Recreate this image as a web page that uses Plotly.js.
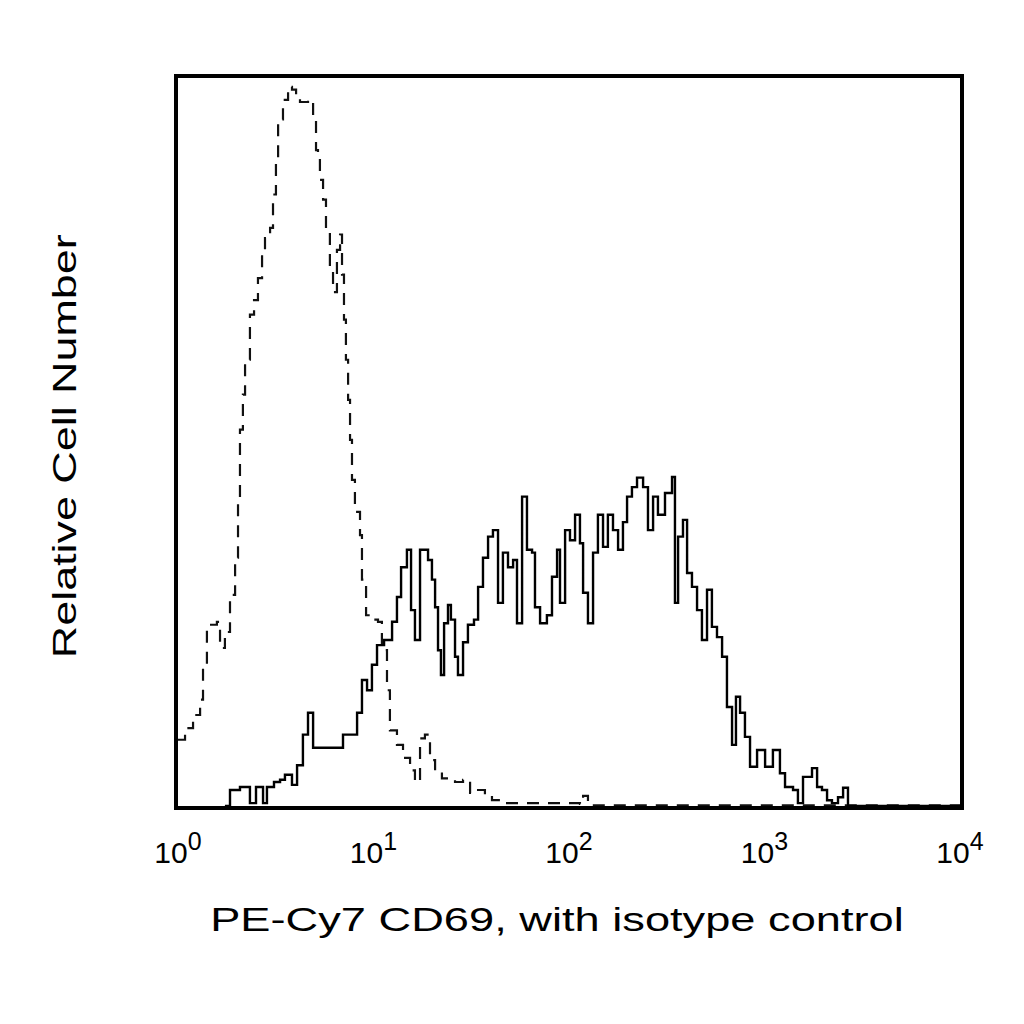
<!DOCTYPE html>
<html>
<head>
<meta charset="UTF-8">
<script src="https://cdn.plot.ly/plotly-3.0.1.min.js"></script>
<style>
  body { margin: 0; background: #fff; }
  /* the reference titles are drawn wider than plain Arial */
  #plot .xtitle { transform-box: fill-box; transform-origin: center; transform: translateX(-12px) scaleX(1.33); }
  #plot .ytitle { transform-box: fill-box; transform-origin: center; transform: translate(-10px, 16px) rotate(-90deg) scaleX(1.36); }
</style>
</head>
<body>
<div id="plot" style="width:1024px;height:1024px;"></div>
<script>
// fluorescence intensity given in decades (log10), counts as relative cell number
const cd69Log = [0.240, 0.266, 0.317, 0.368, 0.399, 0.435, 0.455, 0.491, 0.522, 0.547, 0.583, 0.609,
  0.639, 0.665, 0.691, 0.844, 0.916, 0.941, 0.967, 0.992, 1.018, 1.054, 1.095, 1.120, 1.141, 1.171,
  1.192, 1.212, 1.238, 1.279, 1.299, 1.315, 1.330, 1.345, 1.361, 1.381, 1.396, 1.417, 1.432, 1.458,
  1.483, 1.514, 1.535, 1.560, 1.586, 1.611, 1.637, 1.662, 1.688, 1.714, 1.734, 1.760, 1.785, 1.811,
  1.826, 1.852, 1.887, 1.913, 1.939, 1.954, 1.980, 2.005, 2.031, 2.056, 2.072, 2.097, 2.123, 2.148,
  2.174, 2.199, 2.225, 2.251, 2.276, 2.297, 2.322, 2.348, 2.379, 2.404, 2.430, 2.455, 2.491, 2.527,
  2.542, 2.558, 2.583, 2.604, 2.629, 2.655, 2.680, 2.706, 2.731, 2.757, 2.783, 2.808, 2.834, 2.854,
  2.875, 2.900, 2.926, 2.962, 3.003, 3.043, 3.079, 3.105, 3.146, 3.171, 3.197, 3.243, 3.269, 3.294,
  3.320, 3.345, 3.376, 3.402, 3.427, 4.0];
const cd69Count = [0, 2.2, 2.6, 0.4, 2.6, 0.4, 2.6, 3.3, 3.6, 4.3, 2.9, 5.6,
  9.8, 12.8, 8.0, 9.8, 12.8, 17.3, 15.9, 19.4, 22.1, 22.8, 25.3, 28.7, 32.8, 35.2,
  26.9, 22.8, 35.2, 33.8, 31.1, 27.3, 21.4, 18.0, 25.1, 27.6, 25.6, 20.5, 18.0, 22.5,
  24.9, 25.6, 30.1, 34.1, 37.0, 37.9, 27.9, 34.8, 32.8, 33.8, 25.1, 42.5, 35.2, 34.8,
  27.3, 25.1, 26.2, 31.5, 35.2, 27.9, 37.9, 36.5, 40.0, 36.1, 29.3, 25.1, 34.8, 40.0,
  35.6, 40.0, 37.9, 35.2, 39.0, 42.5, 43.8, 45.1, 43.8, 37.9, 42.5, 40.0, 43.0, 45.2,
  27.9, 37.0, 39.3, 32.0, 30.1, 26.9, 22.8, 29.7, 24.6, 23.2, 20.5, 13.6, 8.4, 15.0,
  12.8, 9.5, 5.4, 7.7, 5.4, 7.7, 4.5, 2.6, 2.2, 0.4, 4.0, 5.2, 2.6, 2.2,
  0.8, 0.4, 1.2, 2.5, 0, 0];

const isoLog = [0, 0.036, 0.077, 0.113, 0.128, 0.148, 0.199, 0.215, 0.240, 0.266, 0.292, 0.307,
  0.317, 0.332, 0.343, 0.368, 0.389, 0.409, 0.430, 0.445, 0.471, 0.486, 0.501, 0.512, 0.537,
  0.563, 0.583, 0.604, 0.624, 0.665, 0.691, 0.706, 0.716, 0.726, 0.742, 0.757, 0.777, 0.793,
  0.813, 0.829, 0.839, 0.849, 0.859, 0.870, 0.880, 0.890, 0.905, 0.931, 0.941, 0.962, 0.992,
  1.023, 1.043, 1.069, 1.084, 1.120, 1.151, 1.187, 1.212, 1.238, 1.263, 1.289, 1.315, 1.350,
  1.381, 1.417, 1.458, 1.494, 1.535, 1.570, 1.606, 1.647, 2.056, 2.072, 2.097, 4.0];
const isoCount = [9.1, 10.7, 12.5, 14.6, 19.0, 24.9, 25.3, 21.7, 23.9, 29.0, 34.1, 42.0,
  51.7, 56.5, 61.3, 67.5, 69.5, 72.5, 75.7, 78.0, 79.4, 84.0, 88.8, 94.3, 97.0,
  98.8, 98.4, 97.3, 96.7, 97.0, 94.3, 90.1, 89.0, 86.0, 83.3, 79.1, 73.6, 70.6,
  76.4, 78.5, 73.0, 66.8, 61.3, 55.8, 50.3, 44.8, 40.4, 37.2, 31.1, 26.2, 25.6,
  25.3, 21.4, 15.9, 10.4, 8.4, 6.6, 4.9, 3.3, 9.3, 9.8, 6.3, 4.7, 3.8,
  3.6, 3.3, 3.6, 1.8, 2.2, 1.5, 0.8, 0.4, 0.3, 1.4, 0.1, 0.1];

const tickVals = [1, 10, 100, 1000, 10000];
const tickExp = ['0', '1', '2', '3', '4'];

const toLinear = arr => arr.map(v => Math.pow(10, v));
const tickText = tickExp.map(e => '10<sup><span style="font-size:25px">' + e + '</span></sup>');

const isotype = {
  x: toLinear(isoLog),
  y: isoCount,
  type: 'scatter',
  mode: 'lines',
  line: { shape: 'hv', color: '#111', width: 2.2, dash: '12px,9px' },
  name: 'isotype control'
};

const cd69 = {
  x: toLinear(cd69Log),
  y: cd69Count,
  type: 'scatter',
  mode: 'lines',
  line: { shape: 'hv', color: '#000', width: 2.4 },
  name: 'PE-Cy7 CD69'
};

const layout = {
  width: 1024,
  height: 1024,
  showlegend: false,
  paper_bgcolor: '#fff',
  plot_bgcolor: '#fff',
  margin: { l: 178, r: 64, t: 78, b: 218 },
  font: { family: 'Liberation Sans, Arial, sans-serif', color: '#000' },
  xaxis: {
    type: 'log',
    range: [0, 4],
    tickvals: tickVals,
    ticktext: tickText,
    ticks: 'outside',
    ticklen: 17,
    tickcolor: 'rgba(0,0,0,0)',
    tickfont: { size: 30 },
    showgrid: false,
    zeroline: false,
    showline: true,
    linecolor: '#000',
    linewidth: 4,
    mirror: true,
    title: { text: 'PE-Cy7 CD69, with isotype control', font: { size: 34 }, standoff: 40 }
  },
  yaxis: {
    range: [0, 100],
    showticklabels: false,
    ticks: '',
    showgrid: false,
    zeroline: false,
    showline: true,
    linecolor: '#000',
    linewidth: 4,
    mirror: true,
    title: { text: 'Relative Cell Number', font: { size: 33 }, standoff: 90 }
  }
};

Plotly.newPlot('plot', [isotype, cd69], layout, { staticPlot: true });
</script>
</body>
</html>
